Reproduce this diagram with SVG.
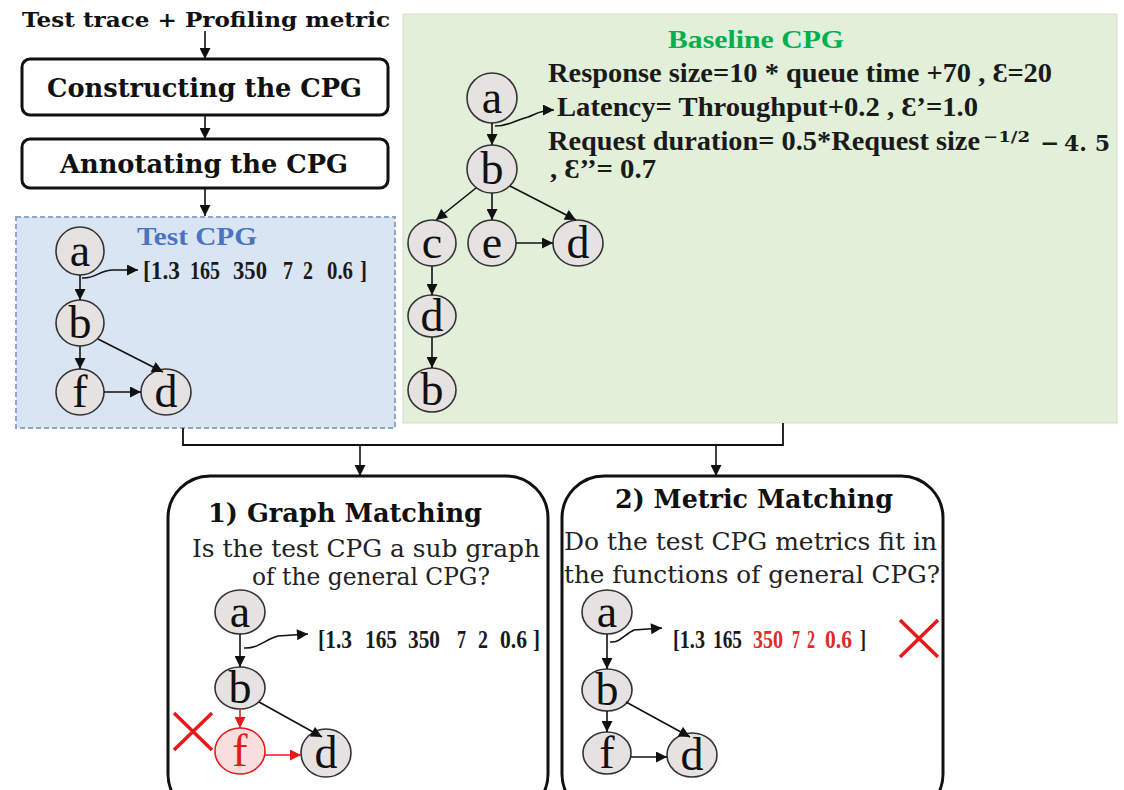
<svg xmlns="http://www.w3.org/2000/svg" width="1124" height="790" viewBox="0 0 1124 790">
<defs>
<marker id="ah" viewBox="0 0 10 10" refX="10" refY="5" markerWidth="12" markerHeight="11" markerUnits="userSpaceOnUse" orient="auto"><path d="M0,0 L10,5 L0,10 z" fill="#111"/></marker>
<marker id="ahr" viewBox="0 0 10 10" refX="10" refY="5" markerWidth="12" markerHeight="11" markerUnits="userSpaceOnUse" orient="auto"><path d="M0,0 L10,5 L0,10 z" fill="#e8191b"/></marker>
<style>
.box{fill:#fff;stroke:#111;stroke-width:3}
.nd{fill:#e6e2e2;stroke:#333;stroke-width:1.6}
.ndr{fill:#f9dede;stroke:#e8191b;stroke-width:1.6}
.lt{font-family:"Liberation Serif",serif;font-size:46px;text-anchor:middle;fill:#111}
.ltr{font-family:"Liberation Serif",serif;font-size:46px;text-anchor:middle;fill:#e8191b}
.e{fill:none;stroke:#111;stroke-width:1.6;marker-end:url(#ah)}
.er{fill:none;stroke:#e8191b;stroke-width:1.6;marker-end:url(#ahr)}
.c{fill:none;stroke:#111;stroke-width:1.8}
.hd{font-family:"DejaVu Serif",serif;font-weight:bold;fill:#111}
.q{font-family:"DejaVu Serif",serif;fill:#222}
.eq{font-family:"Liberation Serif",serif;font-weight:bold;font-size:27px;fill:#1a1a1a}
.v{font-family:"Liberation Serif",serif;font-weight:bold;font-size:25px;fill:#1a1a1a}
.vr{font-family:"Liberation Serif",serif;font-weight:bold;font-size:25px;fill:#e02a2a}
.x{stroke:#e8191b;stroke-width:3.5;fill:none}
</style>
</defs>
<rect width="1124" height="790" fill="#fff"/>

<!-- Baseline panel -->
<g id="baseline-cpg">
<rect x="403" y="14" width="714" height="409" fill="#e2efd9" stroke="#d3dfcc" stroke-width="1"/>
<text x="756" y="48" font-family="Liberation Serif, serif" font-weight="bold" font-size="26" fill="#00b050" text-anchor="middle" textLength="176" lengthAdjust="spacingAndGlyphs">Baseline CPG</text>
<text class="eq" x="548" y="82" textLength="504" lengthAdjust="spacingAndGlyphs">Response size=10 * queue time +70 , Ɛ=20</text>
<text class="eq" x="557" y="116" textLength="421" lengthAdjust="spacingAndGlyphs">Latency= Throughput+0.2 , Ɛ’=1.0</text>
<text class="eq" x="548" y="150" textLength="432" lengthAdjust="spacingAndGlyphs">Request duration= 0.5*Request size</text>
<text x="983" y="142" font-family="DejaVu Serif, serif" font-weight="bold" font-size="15" fill="#1a1a1a" textLength="47" lengthAdjust="spacingAndGlyphs">−1/2</text>
<text x="1040" y="151" font-family="DejaVu Serif, serif" font-weight="bold" font-size="23" fill="#1a1a1a">−</text>
<text x="1064" y="151" font-family="DejaVu Serif, serif" font-weight="bold" font-size="23" fill="#1a1a1a" textLength="46" lengthAdjust="spacingAndGlyphs">4. 5</text>
<text class="eq" x="550" y="178" textLength="106" lengthAdjust="spacingAndGlyphs">, Ɛ’’= 0.7</text>
</g>

<!-- Test CPG panel -->
<g id="test-cpg">
<rect x="16" y="217" width="379" height="211" fill="#dae5f3" stroke="#8ea6c8" stroke-width="2" stroke-dasharray="5,3"/>
<text x="137" y="245" font-family="Liberation Serif, serif" font-weight="bold" font-size="26" fill="#4a74c0" textLength="120" lengthAdjust="spacingAndGlyphs">Test CPG</text>
<text class="v" x="143" y="279" textLength="37" lengthAdjust="spacingAndGlyphs">[1.3</text>
<text class="v" x="190" y="279" textLength="30" lengthAdjust="spacingAndGlyphs">165</text>
<text class="v" x="233" y="279" textLength="34" lengthAdjust="spacingAndGlyphs">350</text>
<text class="v" x="283" y="279" textLength="10" lengthAdjust="spacingAndGlyphs">7</text>
<text class="v" x="303" y="279" textLength="10" lengthAdjust="spacingAndGlyphs">2</text>
<text class="v" x="327" y="279" textLength="26" lengthAdjust="spacingAndGlyphs">0.6</text>
<text class="v" x="360" y="279" textLength="7" lengthAdjust="spacingAndGlyphs">]</text>
</g>

<!-- Top flow -->
<g id="input-label">
<text class="hd" x="22" y="27" font-size="20" textLength="368" lengthAdjust="spacingAndGlyphs">Test trace + Profiling metric</text>
</g>
<g id="constructing">
<rect class="box" x="22" y="59" width="366" height="56" rx="8"/>
<text class="hd" x="47" y="97" font-size="26" textLength="315" lengthAdjust="spacingAndGlyphs">Constructing the CPG</text>
</g>
<g id="annotating">
<rect class="box" x="22" y="139" width="366" height="49" rx="8"/>
<text class="hd" x="60" y="173" font-size="26" textLength="288" lengthAdjust="spacingAndGlyphs">Annotating the CPG</text>
</g>

<!-- Matching boxes -->
<g id="graph-matching">
<rect class="box" x="168" y="476" width="380" height="340" rx="42"/>
<text class="hd" x="208" y="522" font-size="26" textLength="274" lengthAdjust="spacingAndGlyphs">1) Graph Matching</text>
<text class="q" x="192" y="557" font-size="25" textLength="348" lengthAdjust="spacingAndGlyphs">Is the test CPG a sub graph</text>
<text class="q" x="252" y="585" font-size="25" textLength="238" lengthAdjust="spacingAndGlyphs">of the general CPG?</text>
<text class="v" x="318" y="648" textLength="34" lengthAdjust="spacingAndGlyphs">[1.3</text>
<text class="v" x="365" y="648" textLength="32" lengthAdjust="spacingAndGlyphs">165</text>
<text class="v" x="408" y="648" textLength="32" lengthAdjust="spacingAndGlyphs">350</text>
<text class="v" x="457" y="648" textLength="9" lengthAdjust="spacingAndGlyphs">7</text>
<text class="v" x="478" y="648" textLength="10" lengthAdjust="spacingAndGlyphs">2</text>
<text class="v" x="500" y="648" textLength="27" lengthAdjust="spacingAndGlyphs">0.6</text>
<text class="v" x="533" y="648" textLength="7" lengthAdjust="spacingAndGlyphs">]</text>
<path class="x" d="M174,713 L212,750 M212,713 L174,750"/>
</g>
<g id="metric-matching">
<rect class="box" x="562" y="476" width="381" height="340" rx="42"/>
<text class="hd" x="615" y="508" font-size="26" textLength="278" lengthAdjust="spacingAndGlyphs">2) Metric Matching</text>
<text class="q" x="564" y="550" font-size="25" textLength="373" lengthAdjust="spacingAndGlyphs">Do the test CPG metrics fit in</text>
<text class="q" x="564" y="583" font-size="25" textLength="376" lengthAdjust="spacingAndGlyphs">the functions of general CPG?</text>
<text class="v" x="673" y="648" textLength="32" lengthAdjust="spacingAndGlyphs">[1.3</text>
<text class="v" x="713" y="648" textLength="29" lengthAdjust="spacingAndGlyphs">165</text>
<text class="vr" x="753" y="648" textLength="30" lengthAdjust="spacingAndGlyphs">350</text>
<text class="vr" x="792" y="648" textLength="8" lengthAdjust="spacingAndGlyphs">7</text>
<text class="vr" x="807" y="648" textLength="8" lengthAdjust="spacingAndGlyphs">2</text>
<text class="vr" x="825" y="648" textLength="27" lengthAdjust="spacingAndGlyphs">0.6</text>
<text class="v" x="860" y="648" textLength="6" lengthAdjust="spacingAndGlyphs">]</text>
<path class="x" d="M900,620 L938,657 M938,620 L900,657"/>
</g>

<!-- Nodes: test CPG -->
<g id="t-a"><ellipse class="nd" cx="80" cy="251" rx="24" ry="24"/><text class="lt" x="80" y="266">a</text></g>
<g id="t-b"><ellipse class="nd" cx="80" cy="323" rx="24" ry="23"/><text class="lt" x="80" y="338">b</text></g>
<g id="t-f"><ellipse class="nd" cx="80" cy="392" rx="24" ry="23"/><text class="lt" x="80" y="407">f</text></g>
<g id="t-d"><ellipse class="nd" cx="166" cy="392" rx="25" ry="23"/><text class="lt" x="166" y="407">d</text></g>

<!-- Nodes: baseline CPG -->
<g id="b-a"><ellipse class="nd" cx="492" cy="98" rx="25" ry="25"/><text class="lt" x="492" y="113">a</text></g>
<g id="b-b"><ellipse class="nd" cx="492" cy="169" rx="25" ry="24"/><text class="lt" x="492" y="184">b</text></g>
<g id="b-c"><ellipse class="nd" cx="432" cy="243" rx="24" ry="23"/><text class="lt" x="432" y="258">c</text></g>
<g id="b-e"><ellipse class="nd" cx="492" cy="243" rx="24" ry="23"/><text class="lt" x="492" y="258">e</text></g>
<g id="b-d"><ellipse class="nd" cx="578" cy="243" rx="25" ry="23"/><text class="lt" x="578" y="258">d</text></g>
<g id="b-d2"><ellipse class="nd" cx="432" cy="316" rx="24" ry="21"/><text class="lt" x="432" y="331">d</text></g>
<g id="b-b2"><ellipse class="nd" cx="432" cy="390" rx="24" ry="22"/><text class="lt" x="432" y="405">b</text></g>

<!-- Nodes: graph matching -->
<g id="g-a"><ellipse class="nd" cx="240" cy="612" rx="25" ry="22"/><text class="lt" x="240" y="627">a</text></g>
<g id="g-b"><ellipse class="nd" cx="240" cy="688" rx="25" ry="21"/><text class="lt" x="240" y="703">b</text></g>
<g id="g-f"><ellipse class="ndr" cx="240" cy="751" rx="25" ry="23"/><text class="ltr" x="240" y="766">f</text></g>
<g id="g-d"><ellipse class="nd" cx="326" cy="753" rx="25" ry="24"/><text class="lt" x="326" y="768">d</text></g>

<!-- Nodes: metric matching -->
<g id="m-a"><ellipse class="nd" cx="607" cy="612" rx="25" ry="22"/><text class="lt" x="607" y="627">a</text></g>
<g id="m-b"><ellipse class="nd" cx="607" cy="690" rx="25" ry="21"/><text class="lt" x="607" y="705">b</text></g>
<g id="m-f"><ellipse class="nd" cx="607" cy="753" rx="24" ry="21"/><text class="lt" x="607" y="768">f</text></g>
<g id="m-d"><ellipse class="nd" cx="692" cy="755" rx="25" ry="22"/><text class="lt" x="692" y="770">d</text></g>

<g id="connectors">
<!-- flow -->
<path class="e" d="M205,31 L205,59"/>
<path class="e" d="M205,115 L205,139"/>
<path class="e" d="M205,188 L205,216"/>
<path class="c" d="M183,428 L183,445 L783,445 L783,423"/>
<path class="e" d="M360,445 L360,476"/>
<path class="e" d="M716,445 L716,476"/>
<!-- test CPG -->
<path class="e" d="M80,275 L80,300"/>
<path class="e" d="M80,346 L80,369"/>
<path class="e" d="M98,339 L163,372"/>
<path class="e" d="M104,392 L141,392"/>
<path class="e" d="M82,278 C95,279 100,270 113,270 L138,270"/>
<!-- baseline -->
<path class="e" d="M492,123 L492,145"/>
<path class="e" d="M476,188 L436,220"/>
<path class="e" d="M492,193 L492,220"/>
<path class="e" d="M510,186 L576,220"/>
<path class="e" d="M516,243 L553,243"/>
<path class="e" d="M432,266 L432,295"/>
<path class="e" d="M432,337 L432,368"/>
<path class="e" d="M495,126 C510,126 515,120 528,117 C536,114 540,110 554,110"/>
<!-- graph matching -->
<path class="e" d="M240,634 L240,667"/>
<path class="er" d="M240,709 L240,728"/>
<path class="e" d="M259,702 L322,737"/>
<path class="er" d="M265,755 L301,755"/>
<path class="e" d="M244,648 C258,649 264,640 278,636 L308,634"/>
<!-- metric matching -->
<path class="e" d="M607,634 L607,669"/>
<path class="e" d="M607,711 L607,732"/>
<path class="e" d="M626,702 L690,737"/>
<path class="e" d="M631,757 L667,757"/>
<path class="e" d="M610,642 C620,643 625,634 634,630 L662,628"/>
</g>
</svg>
